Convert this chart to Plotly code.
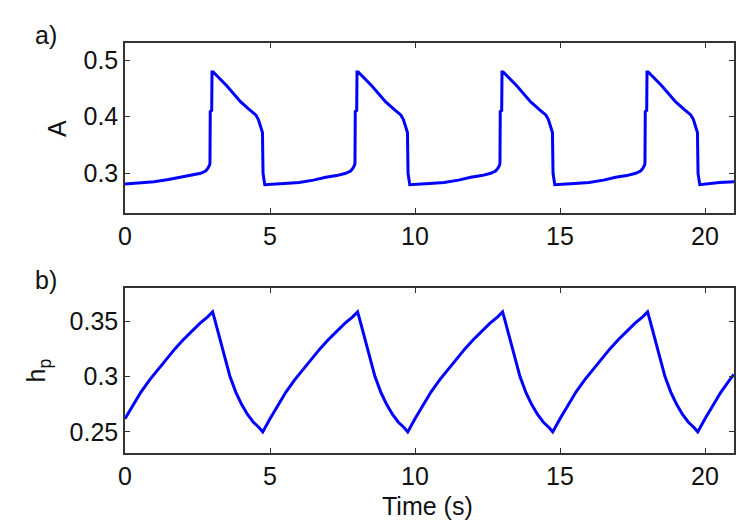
"""Two-panel time series: A and h_p over time (periodic pulses)."""

import plotly.graph_objects as go
from plotly.subplots import make_subplots

# ── Data ──────────────────────────────────────────────────────────────────────
t_A = [
    0.0, 0.5, 1.0, 1.5, 1.92, 2.3, 2.61, 2.78, 2.86, 2.92, 2.93, 2.94, 2.99, 3.0, 3.04,
    3.5, 3.99, 4.3, 4.51, 4.6, 4.68, 4.74, 4.76, 4.79, 4.82,
    5.5, 6.0, 6.5, 6.92, 7.3, 7.61, 7.78, 7.86, 7.92, 7.93, 7.94, 7.99, 8.0, 8.04,
    8.5, 8.99, 9.3, 9.51, 9.6, 9.68, 9.74, 9.76, 9.79, 9.82,
    10.5, 11.0, 11.5, 11.92, 12.3, 12.61, 12.78, 12.86, 12.92, 12.93, 12.94, 12.99, 13.0, 13.04,
    13.5, 13.99, 14.3, 14.51, 14.6, 14.68, 14.74, 14.76, 14.79, 14.82,
    15.5, 16.0, 16.5, 16.92, 17.3, 17.61, 17.78, 17.86, 17.92, 17.93, 17.94, 17.99, 18.0, 18.04,
    18.5, 18.99, 19.3, 19.51, 19.6, 19.68, 19.74, 19.76, 19.79, 19.82,
    20.5, 21.0,
]
A = [
    0.281, 0.283, 0.285, 0.289, 0.293, 0.296, 0.300, 0.304, 0.309, 0.315, 0.319, 0.409, 0.411, 0.479, 0.479,
    0.455, 0.426, 0.412, 0.403, 0.395, 0.384, 0.372, 0.300, 0.285, 0.280,
    0.282, 0.284, 0.288, 0.293, 0.296, 0.300, 0.304, 0.309, 0.315, 0.319, 0.409, 0.411, 0.479, 0.479,
    0.455, 0.426, 0.412, 0.403, 0.395, 0.384, 0.372, 0.300, 0.285, 0.280,
    0.282, 0.284, 0.288, 0.293, 0.296, 0.300, 0.304, 0.309, 0.315, 0.319, 0.409, 0.411, 0.479, 0.479,
    0.455, 0.426, 0.412, 0.403, 0.395, 0.384, 0.372, 0.300, 0.285, 0.280,
    0.282, 0.284, 0.288, 0.293, 0.296, 0.300, 0.304, 0.309, 0.315, 0.319, 0.409, 0.411, 0.479, 0.479,
    0.455, 0.426, 0.412, 0.403, 0.395, 0.384, 0.372, 0.300, 0.285, 0.280,
    0.284, 0.285,
]

t_hp = [
    0.0, 0.28, 0.55, 0.85, 1.15, 1.43, 1.72, 2.0, 2.3, 2.58, 2.85, 3.02,
    3.10, 3.22, 3.32, 3.48, 3.62, 3.82, 4.02, 4.22, 4.42, 4.62, 4.75,
    5.0, 5.28, 5.55, 5.85, 6.15, 6.43, 6.72, 7.0, 7.3, 7.58, 7.85, 8.02,
    8.10, 8.22, 8.32, 8.48, 8.62, 8.82, 9.02, 9.22, 9.42, 9.62, 9.75,
    10.0, 10.28, 10.55, 10.85, 11.15, 11.43, 11.72, 12.0, 12.3, 12.58, 12.85, 13.02,
    13.10, 13.22, 13.32, 13.48, 13.62, 13.82, 14.02, 14.22, 14.42, 14.62, 14.75,
    15.0, 15.28, 15.55, 15.85, 16.15, 16.43, 16.72, 17.0, 17.3, 17.58, 17.85, 18.02,
    18.10, 18.22, 18.32, 18.48, 18.62, 18.82, 19.02, 19.22, 19.42, 19.62, 19.75,
    20.0, 20.28, 20.55, 20.85, 21.0,
]
hp = [
    0.262, 0.274, 0.286, 0.297, 0.307, 0.316, 0.325, 0.333, 0.341, 0.348, 0.354, 0.3585,
    0.351, 0.339, 0.329, 0.312, 0.300, 0.286, 0.275, 0.266, 0.259, 0.254, 0.250,
    0.262, 0.274, 0.286, 0.297, 0.307, 0.316, 0.325, 0.333, 0.341, 0.348, 0.354, 0.3585,
    0.351, 0.339, 0.329, 0.312, 0.300, 0.286, 0.275, 0.266, 0.259, 0.254, 0.250,
    0.262, 0.274, 0.286, 0.297, 0.307, 0.316, 0.325, 0.333, 0.341, 0.348, 0.354, 0.3585,
    0.351, 0.339, 0.329, 0.312, 0.300, 0.286, 0.275, 0.266, 0.259, 0.254, 0.250,
    0.262, 0.274, 0.286, 0.297, 0.307, 0.316, 0.325, 0.333, 0.341, 0.348, 0.354, 0.3585,
    0.351, 0.339, 0.329, 0.312, 0.300, 0.286, 0.275, 0.266, 0.259, 0.254, 0.250,
    0.262, 0.274, 0.286, 0.297, 0.302,
]

x_ticks = [0, 5, 10, 15, 20]
A_ticks = [0.3, 0.4, 0.5]
hp_ticks = [0.25, 0.3, 0.35]

# ── Style ─────────────────────────────────────────────────────────────────────
BLUE = "#0000FF"
INK = "#111111"
FONT = dict(family="Arial, Liberation Sans, sans-serif", size=25, color=INK)

fig = make_subplots(rows=2, cols=1)
fig.add_trace(go.Scatter(x=t_A, y=A, mode="lines",
                         line=dict(color=BLUE, width=3)), row=1, col=1)
fig.add_trace(go.Scatter(x=t_hp, y=hp, mode="lines",
                         line=dict(color=BLUE, width=3)), row=2, col=1)

axis_style = dict(
    showline=True, linecolor="#333333", linewidth=1.5, mirror="ticks",
    ticks="inside", ticklen=5, tickcolor="#333333", tickwidth=1.3,
    showgrid=False, zeroline=False, tickfont=FONT,
)
fig.update_xaxes(axis_style)
fig.update_yaxes(axis_style)

# page body adds an 8px offset, so the figure is shrunk to keep the
# plot boxes where they sit in the reference
fig.update_layout(
    width=742, height=522,
    margin=dict(l=117, r=16, t=35, b=77),
    paper_bgcolor="white", plot_bgcolor="white",
    showlegend=False, font=FONT,
    xaxis=dict(domain=[0, 1], range=[0, 21], tickvals=x_ticks),
    xaxis2=dict(domain=[0, 1], range=[0, 21], tickvals=x_ticks),
    yaxis=dict(domain=[0.5854, 1], range=[0.23, 0.53], tickvals=A_ticks),
    yaxis2=dict(domain=[0, 0.4024], range=[0.231, 0.38], tickvals=hp_ticks),
)

labels = [
    dict(text="a)", x=-0.1297, y=1.0195, textangle=0),
    dict(text="b)", x=-0.1297, y=0.422, textangle=0),
    dict(text="A", x=-0.1117, y=0.7927, textangle=-90),
    dict(text="h<sub>p</sub>", x=-0.1429, y=0.2012, textangle=-90),
    dict(text="Time (s)", x=0.4975, y=-0.129, textangle=0),
]
for lab in labels:
    fig.add_annotation(xref="paper", yref="paper", showarrow=False,
                       xanchor="center", yanchor="middle", font=FONT, **lab)

fig.write_html("out.html")
